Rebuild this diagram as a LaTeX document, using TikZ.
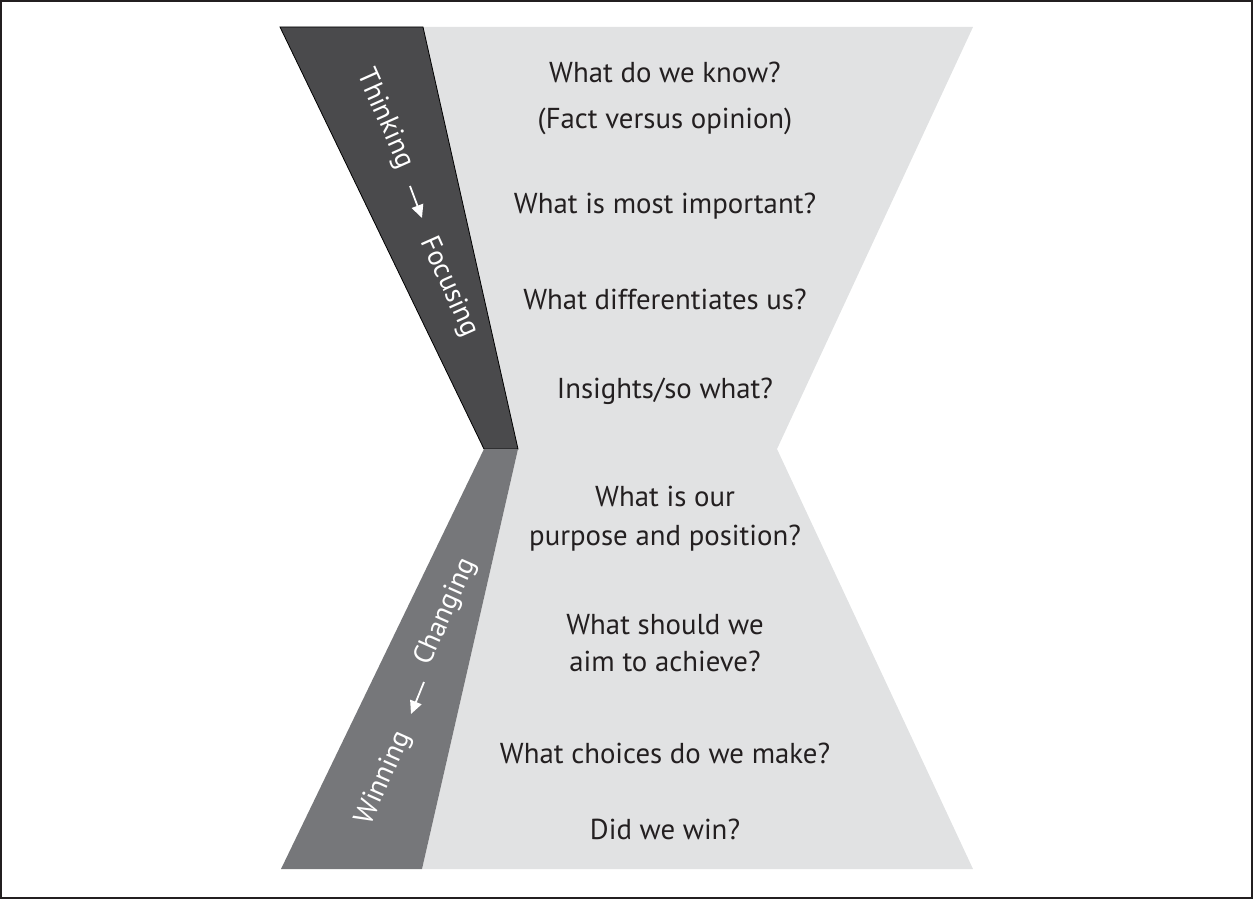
\documentclass[tikz,border=0pt]{standalone}
\usepackage{fontspec}
\setmainfont{PT Sans}
\usetikzlibrary{arrows.meta}
\definecolor{darkband}{HTML}{4A4A4C}
\definecolor{midband}{HTML}{76777A}
\definecolor{lightfill}{HTML}{E1E2E3}
\definecolor{frameclr}{HTML}{231F20}
\begin{document}
\begin{tikzpicture}[x=1pt,y=-1pt,
  q/.style={font=\fontsize{28.8}{34}\selectfont, text=frameclr, inner sep=0pt, align=center},
  lab/.style={font=\fontsize{28}{32}\selectfont, text=white, inner sep=0pt},
  warrow/.style={white, line width=1.8pt, -{Triangle[length=13pt,width=12pt]}}]
\useasboundingbox (0,0) rectangle (1253,899);
\draw[frameclr, line width=2pt] (1,1) rectangle (1252,898);
% light hourglass
\fill[lightfill] (423,27) -- (973,27) -- (777,449) -- (973,869) -- (422,869) -- (518,449) -- cycle;
% dark upper band
\filldraw[fill=darkband, draw=black, line width=0.8pt] (280,27) -- (423,27) -- (518,449) -- (484,449) -- cycle;
% mid lower band
\fill[midband] (484,449) -- (518,449) -- (422,869) -- (281,869) -- cycle;
% questions
\node[q] (q1) at (665,72) {What do we know?};
\node[q] (q2) at (665,121) {(Fact versus opinion)};
\node[q] (q3) at (665,206) {What is most important?};
\node[q] (q4) at (665,299) {What differentiates us?};
\node[q] (q5) at (665,391) {Insights/so what?};
\node[q] (q6a) at (665,496) {What is our};
\node[q] (q6b) at (665,538) {purpose and position?};
\node[q] (q7a) at (665,625) {What should we};
\node[q] (q7b) at (665,661) {aim to achieve?};
\node[q] (q8) at (665,753) {What choices do we make?};
\node[q] (q9) at (665,829) {Did we win?};
% band labels
\node[lab, rotate=-66] (think) at (385,119) {Thinking};
\node[lab, rotate=-66] (focus) at (449,287) {Focusing};
\coordinate (a1s) at (410,186);
\coordinate (a1e) at (422,218);
\draw[warrow] (a1s) -- (a1e);
\node[lab, rotate=66] (chg) at (446,612) {Changing};
\node[lab, rotate=66] (win) at (384,778) {Winning};
\coordinate (a2s) at (424,682);
\coordinate (a2e) at (411,714);
\draw[warrow] (a2s) -- (a2e);
\end{tikzpicture}
\end{document}
